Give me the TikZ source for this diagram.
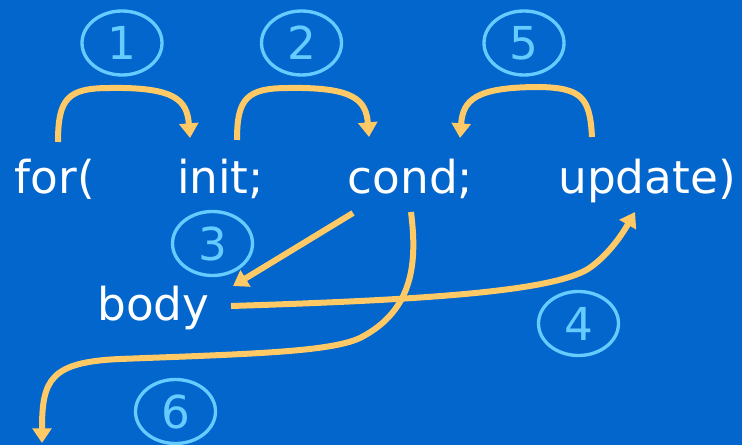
\documentclass[tikz,border=0pt]{standalone}
\usepackage{fontspec}
\setmainfont{DejaVu Sans}
\usetikzlibrary{arrows.meta,shapes.geometric}
\definecolor{bgblue}{HTML}{0366CC}
\definecolor{arrowc}{HTML}{FFC966}
\definecolor{ringc}{HTML}{66CCFF}
\tikzset{
  word/.style={text=white, inner sep=0pt, anchor=base, font=\fontsize{34}{40}\selectfont},
  ring/.style={shape=ellipse, draw=ringc, line width=2.5pt, text=ringc, inner sep=0pt,
    minimum width=60pt, minimum height=48pt, font=\fontsize{34}{40}\selectfont},
  arr/.style={draw=arrowc, line width=4.5pt, -{Triangle[length=11pt,width=14pt]}}
}
\begin{document}
\begin{tikzpicture}[x=0.75pt,y=-0.75pt]
\fill[bgblue] (0,0) rectangle (742,445);
\useasboundingbox (0,0) rectangle (742,445);
% words
\node[word] (for) at (55,194) {for(};
\node[word] (init) at (220.5,194) {init;};
\node[word] (cond) at (410.5,194) {cond;};
\node[word] (update) at (647,194) {update)};
\node[word] (body) at (153.5,320) {body};
% numbered rings
\node[ring] (n1) at (122,43) {1};
\node[ring] (n2) at (301.5,43) {2};
\node[ring] (n5) at (524,43) {5};
\node[ring] (n3) at (212.5,243.5) {3};
\node[ring] (n6) at (175.5,411.5) {6};
\node[ring] (n4) at (578.5,323.5) {4};
% connector end points
\coordinate (forout) at (58,142);
\coordinate (initin) at (190,138);
\coordinate (initout) at (237,140);
\coordinate (condin) at (369,137);
\coordinate (updout) at (592,137);
\coordinate (condin2) at (460,138);
\coordinate (condout) at (353,213);
\coordinate (bodyin) at (233,286);
\coordinate (bodyout) at (231,306);
\coordinate (updin) at (635,212);
\coordinate (condout2) at (411,212);
\coordinate (exit) at (42,443);
% connectors
\draw[arr] (forout) .. controls (58,98) and (68,88) .. (110,88)
  .. controls (175,87) and (187,100) .. (initin);
\draw[arr] (initout) .. controls (237,98) and (247,88) .. (289,88)
  .. controls (354,87) and (366,100) .. (condin);
\draw[arr] (updout) .. controls (590,98) and (582,88) .. (540,87)
  .. controls (475,87) and (463,100) .. (condin2);
\draw[arr] (condout) -- (bodyin);
\draw[arr] (condout2) .. controls (417,260) and (415,310) .. (360,338)
  .. controls (330,352) and (250,354) .. (120,359)
  .. controls (50,362) and (42,380) .. (exit);
\draw[arr] (bodyout) .. controls (420,300) and (550,292) .. (588,269)
  .. controls (606,257) and (620,238) .. (updin);
\end{tikzpicture}
\end{document}
